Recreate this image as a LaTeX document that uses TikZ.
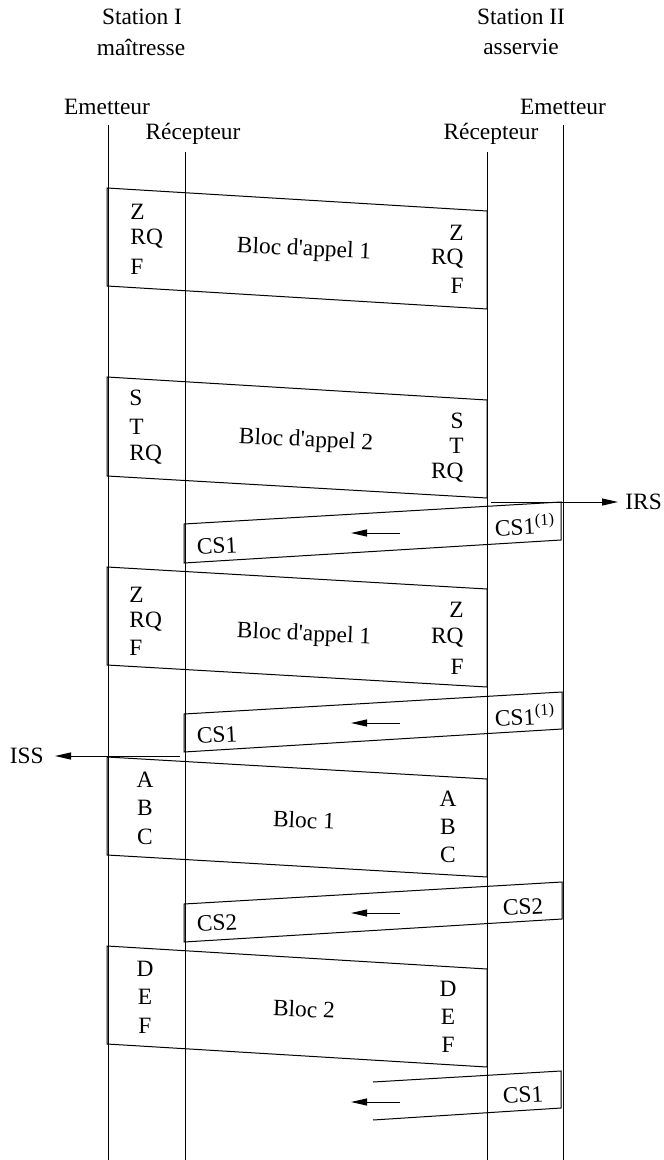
\documentclass[tikz,border=0pt]{standalone}
\usepackage{fontspec}
\setmainfont{Liberation Serif}
\usetikzlibrary{arrows.meta}
\begin{document}
\begin{tikzpicture}[x=0.5pt,y=-0.5pt,font=\fontsize{11.7}{14}\selectfont,
		txt/.style={inner sep=0pt},
		tag/.style={inner sep=0pt, rotate=3},
		blocname/.style={inner sep=0pt, rotate=-2.5},
		frame/.style={line width=0.5pt, line join=miter},
		sig/.style={-{Triangle[length=8pt,width=3.5pt]}, line width=0.5pt}]
	\useasboundingbox (0,0) rectangle (663,1160);
	
	% stations and lifelines
	\node[txt] (SI) at (142,17) {Station I};
	\node[txt] (SIm) at (141,47) {maîtresse};
	\node[txt] (SII) at (521,17) {Station II};
	\node[txt] (SIIa) at (521,47) {asservie};
	\node[txt] (EI) at (107,107) {Emetteur};
	\node[txt] (RI) at (193,134) {Récepteur};
	\node[txt] (RII) at (491,134) {Récepteur};
	\node[txt] (EII) at (563,107) {Emetteur};
	
	\coordinate (EIt) at (108,125);  \coordinate (EIb) at (108,1160);
	\coordinate (RIt) at (185,152);  \coordinate (RIb) at (185,1160);
	\coordinate (RIIt) at (487,152); \coordinate (RIIb) at (487,1160);
	\coordinate (EIIt) at (563,125); \coordinate (EIIb) at (563,1160);
	\draw[frame] (EIt)--(EIb);
	\draw[frame] (RIt)--(RIb);
	\draw[frame] (RIIt)--(RIIb);
	\draw[frame] (EIIt)--(EIIb);
	
	% bloc d'appel 1
	\coordinate (B1a) at (107,188); \coordinate (B1b) at (487,211);
	\coordinate (B1c) at (487,309); \coordinate (B1d) at (107,286);
	\draw[frame] (B1a)--(B1b)--(B1c)--(B1d)--cycle;
	\node[txt, anchor=west] (B1l1) at (130,212) {Z};
	\node[txt, anchor=west] (B1l2) at (130,239) {RQ};
	\node[txt, anchor=west] (B1l3) at (130,267) {F};
	\node[txt, anchor=east] (B1r1) at (464,233) {Z};
	\node[txt, anchor=east] (B1r2) at (464,259) {RQ};
	\node[txt, anchor=east] (B1r3) at (464,286) {F};
	\node[blocname] (B1n) at (304,250) {Bloc d\textquotesingle appel 1};
	
	% bloc d'appel 2
	\coordinate (B2a) at (107,377); \coordinate (B2b) at (487,400);
	\coordinate (B2c) at (487,498); \coordinate (B2d) at (107,476);
	\draw[frame] (B2a)--(B2b)--(B2c)--(B2d)--cycle;
	\node[txt, anchor=west] (B2l1) at (129,398) {S};
	\node[txt, anchor=west] (B2l2) at (129,427) {T};
	\node[txt, anchor=west] (B2l3) at (129,455) {RQ};
	\node[txt, anchor=east] (B2r1) at (464,421) {S};
	\node[txt, anchor=east] (B2r2) at (464,446) {T};
	\node[txt, anchor=east] (B2r3) at (464,473) {RQ};
	\node[blocname] (B2n) at (306,441) {Bloc d\textquotesingle appel 2};
	
	\coordinate (IRSfrom) at (491,502);
	\node[txt, anchor=west] (IRS) at (625,502) {IRS};
	\draw[sig, shorten >=3.5pt] (IRSfrom)--(IRS.west);
	
	% CS1
	\coordinate (C1a) at (184,524); \coordinate (C1b) at (561,502);
	\coordinate (C1c) at (561,540); \coordinate (C1d) at (184,563);
	\draw[frame] (C1a)--(C1b)--(C1c)--(C1d)--cycle;
	\node[tag] (C1l) at (217,546) {CS1};
	\node[tag] (C1r) at (525,525) {CS1\textsuperscript{(1)}};
	\coordinate (C1s) at (400,533); \coordinate (C1e) at (351,533);
	\draw[sig] (C1s)--(C1e);
	
	% bloc d'appel 1 (repetition)
	\coordinate (B3a) at (107,567); \coordinate (B3b) at (487,589);
	\coordinate (B3c) at (487,687); \coordinate (B3d) at (107,665);
	\draw[frame] (B3a)--(B3b)--(B3c)--(B3d)--cycle;
	\node[txt, anchor=west] (B3l1) at (129,595) {Z};
	\node[txt, anchor=west] (B3l2) at (129,622) {RQ};
	\node[txt, anchor=west] (B3l3) at (129,648) {F};
	\node[txt, anchor=east] (B3r1) at (464,610) {Z};
	\node[txt, anchor=east] (B3r2) at (464,638) {RQ};
	\node[txt, anchor=east] (B3r3) at (464,667) {F};
	\node[blocname] (B3n) at (304,635) {Bloc d\textquotesingle appel 1};
	
	% CS1
	\coordinate (C2a) at (184,714); \coordinate (C2b) at (562,692);
	\coordinate (C2c) at (562,729); \coordinate (C2d) at (184,752);
	\draw[frame] (C2a)--(C2b)--(C2c)--(C2d)--cycle;
	\node[tag] (C2l) at (217,735) {CS1};
	\node[tag] (C2r) at (525,715) {CS1\textsuperscript{(1)}};
	\coordinate (C2s) at (400,723); \coordinate (C2e) at (351,723);
	\draw[sig] (C2s)--(C2e);
	
	\coordinate (ISSfrom) at (180,756);
	\node[txt, anchor=east] (ISS) at (44,756) {ISS};
	\draw[sig, shorten >=5.5pt] (ISSfrom)--(ISS.east);
	
	% bloc 1
	\coordinate (B4a) at (107,757); \coordinate (B4b) at (487,779);
	\coordinate (B4c) at (487,877); \coordinate (B4d) at (107,855);
	\draw[frame] (B4a)--(B4b)--(B4c)--(B4d)--cycle;
	\node[txt] (B4l1) at (145,780) {A};
	\node[txt] (B4l2) at (145,808) {B};
	\node[txt] (B4l3) at (145,837) {C};
	\node[txt] (B4r1) at (448,799) {A};
	\node[txt] (B4r2) at (448,827) {B};
	\node[txt] (B4r3) at (448,855) {C};
	\node[blocname] (B4n) at (304,820) {Bloc 1};
	
	% CS2
	\coordinate (C3a) at (184,904); \coordinate (C3b) at (562,882);
	\coordinate (C3c) at (562,919); \coordinate (C3d) at (184,942);
	\draw[frame] (C3a)--(C3b)--(C3c)--(C3d)--cycle;
	\node[tag] (C3l) at (217,923) {CS2};
	\node[tag] (C3r) at (523,907) {CS2};
	\coordinate (C3s) at (400,913); \coordinate (C3e) at (351,913);
	\draw[sig] (C3s)--(C3e);
	
	% bloc 2
	\coordinate (B5a) at (107,946); \coordinate (B5b) at (487,969);
	\coordinate (B5c) at (487,1067); \coordinate (B5d) at (107,1044);
	\draw[frame] (B5a)--(B5b)--(B5c)--(B5d)--cycle;
	\node[txt] (B5l1) at (145,969) {D};
	\node[txt] (B5l2) at (145,997) {E};
	\node[txt] (B5l3) at (145,1026) {F};
	\node[txt] (B5r1) at (448,989) {D};
	\node[txt] (B5r2) at (448,1017) {E};
	\node[txt] (B5r3) at (448,1045) {F};
	\node[blocname] (B5n) at (304,1009) {Bloc 2};
	
	% CS1 (open)
	\coordinate (C4a) at (373,1082); \coordinate (C4b) at (561,1071);
	\coordinate (C4c) at (561,1108); \coordinate (C4d) at (373,1120);
	\draw[frame] (C4a)--(C4b)--(C4c)--(C4d);
	\node[tag] (C4r) at (523,1095) {CS1};
	\coordinate (C4s) at (400,1102); \coordinate (C4e) at (351,1102);
	\draw[sig] (C4s)--(C4e);
\end{tikzpicture}
\end{document}
